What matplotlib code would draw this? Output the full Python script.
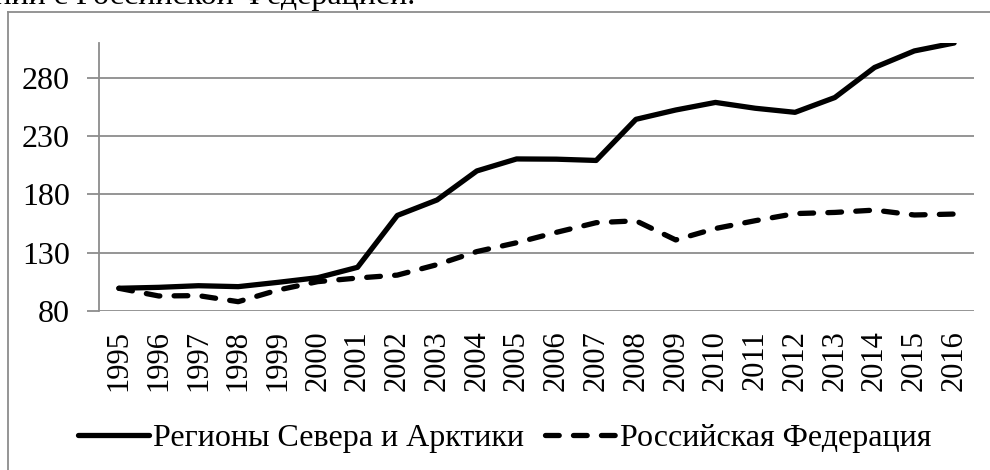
import matplotlib
matplotlib.use("Agg")
from matplotlib import pyplot as plt
from matplotlib.lines import Line2D

years = [str(y) for y in range(1995, 2017)]
north_arctic = [99.5, 100.3, 101.7, 100.9, 104.6, 108.6, 117.5, 162.0, 175.3, 200.2,
                210.5, 210.3, 209.2, 244.5, 252.5, 259.0, 254.0, 250.5, 263.2, 289.0,
                303.2, 310.0]
russia = [99.5, 92.9, 93.2, 88.0, 98.0, 105.2, 108.3, 110.8, 119.8, 131.0,
          138.6, 147.5, 155.8, 157.4, 141.0, 150.8, 157.5, 163.6, 164.6, 166.6,
          162.4, 163.2]
series_names = ['Регионы Севера и Арктики', 'Российская Федерация']
y_ticks = [80, 130, 180, 230, 280]

plt.rcParams.update({'font.family': ['Liberation Serif', 'DejaVu Serif'],
                     'font.size': 23})

fig = plt.figure(figsize=(9.9, 4.7), dpi=100)
W, H = 990, 470
ax = fig.add_axes([99 / W, 1 - 311 / H, (974 - 99) / W, (311 - 43) / H])

grid_c = '#8c8c8c'
x = range(len(years))
ax.plot(x, north_arctic, color='k', lw=3.8, solid_capstyle='round',
        solid_joinstyle='round', label=series_names[0])
ax.plot(x, russia, color='k', lw=3.8, dashes=(2.6, 2.7), dash_capstyle='round',
        dash_joinstyle='round', label=series_names[1])

ax.set_xlim(-0.5, len(years) - 0.5)
ax.set_ylim(80, 310)
ax.set_yticks(y_ticks)
ax.set_xticks(list(x))
ax.set_xticklabels(years, rotation=90, fontsize=22)
ax.yaxis.grid(True, color=grid_c, lw=1.3)
ax.set_axisbelow(True)
for side in ['top', 'right', 'bottom']:
    ax.spines[side].set_visible(False)
ax.spines['left'].set_color(grid_c)
ax.spines['left'].set_linewidth(1.3)
ax.tick_params(axis='y', length=9, width=1.3, color=grid_c, pad=12, labelsize=23)
ax.tick_params(axis='x', length=0, pad=14)

leg = fig.legend(loc='center', bbox_to_anchor=(505 / W, 1 - 438 / H), ncol=2,
                 frameon=False, handlelength=2.2, handletextpad=0.15,
                 columnspacing=0.65, fontsize=23)

# outer chart frame and the cut-off caption line above it
fig.add_artist(Line2D([8 / W, 8 / W], [0, 1 - 12 / H], color=grid_c, lw=1.3))
fig.add_artist(Line2D([8 / W, 1], [1 - 12 / H, 1 - 12 / H], color=grid_c, lw=1.3))
fig.text(415 / W, 1 - 4 / H, 'нении с Российской Федерацией.', ha='right',
         va='baseline', fontsize=23)

fig.savefig('out.png', dpi=100)
